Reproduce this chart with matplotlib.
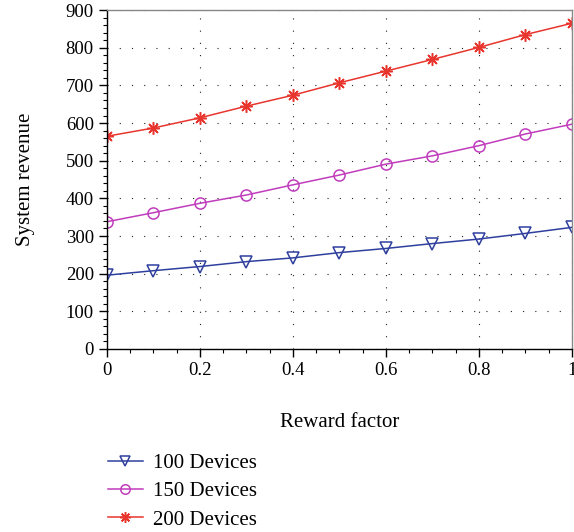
import matplotlib
matplotlib.use("Agg")
import matplotlib.pyplot as plt
from matplotlib.ticker import MultipleLocator

reward = [0.0, 0.1, 0.2, 0.3, 0.4, 0.5, 0.6, 0.7, 0.8, 0.9, 1.0]
dev100 = [196, 208, 219, 232, 242, 256, 267, 280, 292, 307, 323]
dev150 = [338, 362, 387, 409, 436, 462, 491, 513, 540, 571, 597]
dev200 = [565, 587, 614, 645, 674, 707, 738, 769, 801, 835, 865]
labels = ["100 Devices", "150 Devices", "200 Devices"]

plt.rcParams['font.family'] = ['Liberation Serif', 'DejaVu Serif']

fig = plt.figure(figsize=(5.74, 5.32), dpi=100)
ax = fig.add_axes([0.1864, 0.344, 0.81, 0.637])

c1, c2, c3 = "#2f3f9e", "#c03cbc", "#e8352e"
ax.plot(reward, dev100, color=c1, lw=1.1, marker='v', ms=8, mfc='none', mec=c1, mew=1.1, label=labels[0])
ax.plot(reward, dev150, color=c2, lw=1.1, marker='o', ms=8, mfc='none', mec=c2, mew=1.1, label=labels[1])
ax.plot(reward, dev200, color=c3, lw=1.1, marker=(8, 2, 0), ms=9, mfc=c3, mec=c3, mew=1.1, label=labels[2])

ax.set_xlim(0, 1)
ax.set_ylim(0, 900)
ax.xaxis.set_major_locator(MultipleLocator(0.2))
ax.xaxis.set_minor_locator(MultipleLocator(0.05))
ax.yaxis.set_major_locator(MultipleLocator(100))
ax.yaxis.set_minor_locator(MultipleLocator(20))
ax.set_xticks([0, 0.2, 0.4, 0.6, 0.8, 1.0])
ax.set_xticklabels(["0", "0.2", "0.4", "0.6", "0.8", "1"])
ax.tick_params(which='major', direction='out', length=6, width=1, labelsize=13.5)
ax.tick_params(which='minor', direction='out', length=3, width=0.8)
ax.grid(True, which='major', linestyle=(0, (1, 10)), color='#222222', lw=0.8)
for s in ax.spines.values():
    s.set_linewidth(1.0)
ax.spines['right'].set_color('#888888')
ax.spines['top'].set_color('#888888')

ax.set_xlabel("Reward factor", fontsize=15, labelpad=24)
ax.set_ylabel("System revenue", fontsize=15, labelpad=22)

h, l = ax.get_legend_handles_labels()
fig.legend(h, l, loc='upper left', bbox_to_anchor=(0.162, 0.175), frameon=False,
           fontsize=15, handlelength=1.7, labelspacing=0.42, handletextpad=0.5,
           borderpad=0.2, markerscale=0.85)

fig.savefig("out.png", dpi=100)
